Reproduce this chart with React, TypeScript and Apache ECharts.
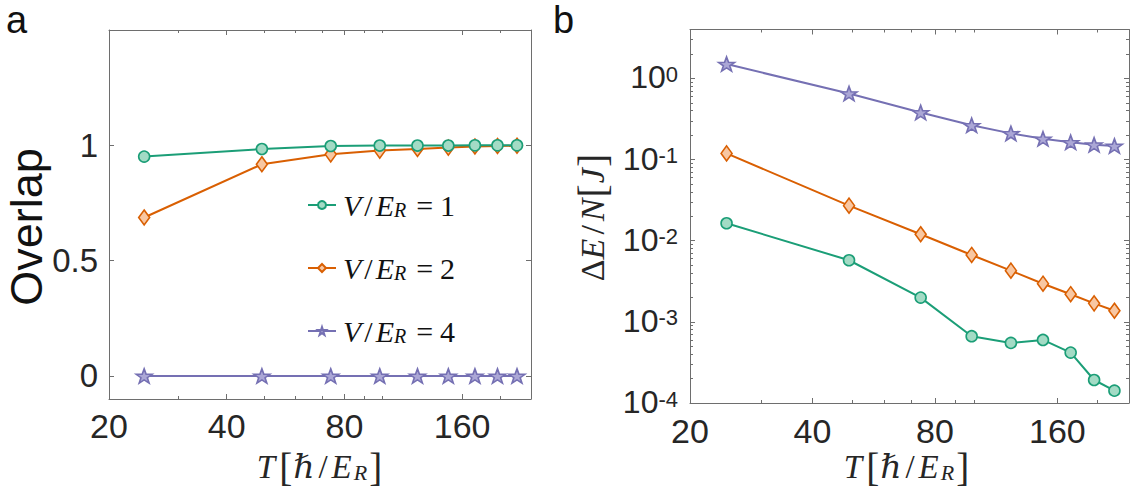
import React, { useEffect, useRef } from "react";
import * as echarts from "echarts";

// ---------- data ----------
const T = [24.6, 49.2, 73.8, 98.5, 123, 147.5, 172.5, 197, 221];

const overlapV1 = [0.951, 0.984, 0.997, 0.999, 0.999, 0.999, 1.0, 1.0, 1.0];
const overlapV2 = [0.687, 0.918, 0.961, 0.977, 0.984, 0.99, 0.995, 0.997, 0.998];
const overlapV4 = [0, 0, 0, 0, 0, 0, 0, 0, 0];

const dEV1 = [0.0164, 0.00574, 0.00199, 0.000665, 0.00055, 0.000598, 0.000418, 0.000192, 0.000142];
const dEV2 = [0.119, 0.027, 0.012, 0.00667, 0.00427, 0.00295, 0.00219, 0.00169, 0.00137];
const dEV4 = [1.5, 0.65, 0.38, 0.264, 0.21, 0.18, 0.163, 0.152, 0.147];

const seriesNames = ["V1", "V2", "V4"];
const seriesValues = ["1", "2", "4"];

const xMajorTicks = [20, 40, 80, 160];
const xMinorTicks = [30, 50, 60, 70, 90, 100, 200];
const overlapTicks = [0, 0.5, 1];
const dEMajorTicks = [1e-4, 1e-3, 1e-2, 1e-1, 1];
const dEMinorTicks = [
  2e-4, 3e-4, 4e-4, 5e-4, 6e-4, 7e-4, 8e-4, 9e-4,
  2e-3, 3e-3, 4e-3, 5e-3, 6e-3, 7e-3, 8e-3, 9e-3,
  2e-2, 3e-2, 4e-2, 5e-2, 6e-2, 7e-2, 8e-2, 9e-2,
  0.2, 0.3, 0.4, 0.5, 0.6, 0.7, 0.8, 0.9,
  2, 3,
];

const X_MIN = 20;
const X_MAX = 240;
const OV_MIN = -0.1;
const OV_MAX = 1.5;
const DE_MIN = 1e-4;
const DE_MAX = 4;

// ---------- styles ----------
const SANS = '"Liberation Sans", Arial, Helvetica, sans-serif';
const SERIF = '"Liberation Serif", "Times New Roman", "DejaVu Serif", serif';
const AX = "#6e6e6e";
const TXT = "#262626";
const LINE = ["#1b9e77", "#d95f02", "#7570b3"];
const FILL = ["#a3dbc5", "#f8c7a2", "#aba7d6"];
const STAR =
  "path://M0,-10 L2.35,-3.24 L9.51,-3.09 L3.8,1.24 L5.88,8.09 L0,4 L-5.88,8.09 L-3.8,1.24 L-9.51,-3.09 L-2.35,-3.24 Z";
const SYMBOLS = ["circle", "diamond", STAR];
const SYMSIZE: any[] = [11, [11, 15], [16, 15]];

const lx = (v: number) => Math.log2(v / X_MIN);
const axLine = { show: true, onZero: false, lineStyle: { color: AX, width: 1 } };
const noLine = { show: false, onZero: false };

function xAxesFor(gridIndex: number, labelMargin: number) {
  const base = {
    gridIndex,
    type: "value",
    min: 0,
    max: lx(X_MAX),
    splitLine: { show: false },
  };
  const major = { show: true, inside: true, length: 5, customValues: xMajorTicks.map(lx), lineStyle: { color: AX } };
  const minor = { show: true, inside: true, length: 3, customValues: xMinorTicks.map(lx), lineStyle: { color: AX } };
  return [
    { gridIndex, type: "log", logBase: 2, min: X_MIN, max: X_MAX, show: false, axisLine: noLine },
    {
      ...base,
      position: "bottom",
      axisLine: axLine,
      axisTick: major,
      axisLabel: {
        show: true,
        customValues: xMajorTicks.map(lx),
        formatter: (v: number) => String(Math.round(X_MIN * Math.pow(2, v))),
        fontSize: 34,
        fontFamily: SANS,
        color: TXT,
        margin: labelMargin,
        lineHeight: 30,
      },
    },
    { ...base, position: "bottom", axisLine: noLine, axisTick: minor, axisLabel: { show: false } },
    { ...base, position: "top", axisLine: axLine, axisTick: major, axisLabel: { show: false } },
    { ...base, position: "top", axisLine: noLine, axisTick: minor, axisLabel: { show: false } },
  ];
}

function buildOption() {
  const lg = (v: number) => Math.log10(v);
  const deBase = { gridIndex: 1, type: "value", min: lg(DE_MIN), max: lg(DE_MAX), splitLine: { show: false } };
  const deMajor = { show: true, inside: true, length: 5, customValues: dEMajorTicks.map(lg), lineStyle: { color: AX } };
  const deMinor = { show: true, inside: true, length: 3, customValues: dEMinorTicks.map(lg), lineStyle: { color: AX } };
  const ovTick = { show: true, inside: true, length: 5, customValues: overlapTicks, lineStyle: { color: AX } };

  const overlapData = [overlapV1, overlapV2, overlapV4];
  const dEData = [dEV1, dEV2, dEV4];

  const mkSeries = (i: number, vals: number[], xi: number, yi: number) => ({
    type: "line",
    name: seriesNames[i],
    xAxisIndex: xi,
    yAxisIndex: yi,
    data: T.map((t, k) => [t, vals[k]]),
    symbol: SYMBOLS[i],
    symbolSize: SYMSIZE[i],
    symbolKeepAspect: true,
    showAllSymbol: true,
    lineStyle: { color: LINE[i], width: 2 },
    itemStyle: { color: FILL[i], borderColor: LINE[i], borderWidth: 1.6 },
    emphasis: { disabled: true },
    z: 3 - i,
  });

  const richMath = (fs: number) => ({
    it: { fontFamily: SERIF, fontStyle: "italic", fontSize: fs, color: TXT, lineHeight: fs },
    n: { fontFamily: SERIF, fontSize: fs, color: TXT, lineHeight: fs },
    tp: { fontFamily: SERIF, fontStyle: "italic", fontSize: fs, color: TXT, lineHeight: fs, padding: [0, 3, 0, 0] },
    sl: { fontFamily: SERIF, fontSize: fs, color: TXT, lineHeight: fs, padding: [0, 4, 0, 4] },
    br: { fontFamily: SERIF, fontSize: fs + 6, color: TXT, lineHeight: fs, padding: [0, 1, 0, 1] },
    sub: {
      fontFamily: SERIF,
      fontStyle: "italic",
      fontSize: Math.round(fs * 0.68),
      color: TXT,
      lineHeight: Math.round(fs * 0.6),
      verticalAlign: "bottom",
      padding: [0, 1, 0, 2],
    },
  });

  return {
    animation: false,
    backgroundColor: "#ffffff",
    grid: [
      { left: 109, top: 30, width: 422, height: 369, outerBoundsMode: "none", containLabel: false },
      { left: 690, top: 29.5, width: 439, height: 373.5, outerBoundsMode: "none", containLabel: false },
    ],
    xAxis: [...xAxesFor(0, 12), ...xAxesFor(1, 13)],
    yAxis: [
      {
        gridIndex: 0,
        type: "value",
        min: OV_MIN,
        max: OV_MAX,
        position: "left",
        splitLine: { show: false },
        axisLine: axLine,
        axisTick: ovTick,
        axisLabel: {
          customValues: overlapTicks,
          formatter: (v: number) => String(v),
          fontSize: 33,
          fontFamily: SANS,
          color: TXT,
          margin: 11,
        },
      },
      {
        gridIndex: 0,
        type: "value",
        min: OV_MIN,
        max: OV_MAX,
        position: "right",
        splitLine: { show: false },
        axisLine: axLine,
        axisTick: ovTick,
        axisLabel: { show: false },
      },
      { gridIndex: 1, type: "log", logBase: 10, min: DE_MIN, max: DE_MAX, show: false, axisLine: noLine },
      {
        ...deBase,
        position: "left",
        axisLine: axLine,
        axisTick: deMajor,
        axisLabel: {
          customValues: dEMajorTicks.map(lg),
          formatter: (v: number) => `{n|10}{s|${Math.round(v)}}`,
          margin: 12,
          rich: {
            n: { fontSize: 32, fontFamily: SANS, color: TXT, lineHeight: 30, verticalAlign: "bottom" },
            s: { fontSize: 22, fontFamily: SANS, color: TXT, lineHeight: 24, padding: [0, 0, 16, 0], verticalAlign: "top" },
          },
        },
      },
      { ...deBase, position: "left", axisLine: noLine, axisTick: deMinor, axisLabel: { show: false } },
      { ...deBase, position: "right", axisLine: axLine, axisTick: deMajor, axisLabel: { show: false } },
      { ...deBase, position: "right", axisLine: noLine, axisTick: deMinor, axisLabel: { show: false } },
    ],
    legend: {
      data: seriesNames,
      orient: "vertical",
      left: 307,
      top: 190,
      padding: 0,
      itemWidth: 28,
      itemHeight: 10,
      itemGap: 33,
      selectedMode: false,
      formatter: (name: string) => {
        const i = seriesNames.indexOf(name);
        return `{it|V}{sl|/}{it|E}{sub|R}{eq|=}{n|${seriesValues[i]}}`;
      },
      textStyle: {
        fontFamily: SERIF,
        fontSize: 30,
        color: "#111111",
        padding: [0, 0, 0, 2],
        rich: {
          it: { fontFamily: SERIF, fontStyle: "italic", fontSize: 30, color: "#111", lineHeight: 30 },
          n: { fontFamily: SERIF, fontSize: 30, color: "#111", lineHeight: 30 },
          sl: { fontFamily: SERIF, fontSize: 30, color: "#111", lineHeight: 30, padding: [0, 3, 0, 3] },
          eq: { fontFamily: SERIF, fontSize: 30, color: "#111", lineHeight: 30, padding: [0, 7, 0, 10] },
          sub: { fontFamily: SERIF, fontStyle: "italic", fontSize: 20, color: "#111", lineHeight: 18, verticalAlign: "bottom" },
        },
      },
    },
    graphic: [
      { type: "text", x: 6, y: 20, style: { text: "a", fontSize: 38, fontFamily: SANS, fill: "#111", align: "left", verticalAlign: "middle" } },
      { type: "text", x: 553, y: 20, style: { text: "b", fontSize: 38, fontFamily: SANS, fill: "#111", align: "left", verticalAlign: "middle" } },
      {
        type: "text",
        x: 26,
        y: 227,
        rotation: Math.PI / 2,
        style: { text: "Overlap", fontSize: 45, fontFamily: SANS, fill: "#111", align: "center", verticalAlign: "middle" },
      },
      {
        type: "text",
        x: 592,
        y: 217,
        rotation: Math.PI / 2,
        style: {
          text: "{n|Δ}{it|E}{sl|/}{it|N}{br|[}{it|J}{br|]}",
          fill: TXT,
          align: "center",
          verticalAlign: "middle",
          rich: richMath(34),
        },
      },
      {
        type: "text",
        x: 320,
        y: 467,
        style: {
          text: "{tp|T}{br|[}{it|ℏ}{sl|/}{it|E}{sub|R}{br|]}",
          fill: TXT,
          align: "center",
          verticalAlign: "middle",
          rich: richMath(33),
        },
      },
      {
        type: "text",
        x: 907,
        y: 467,
        style: {
          text: "{tp|T}{br|[}{it|ℏ}{sl|/}{it|E}{sub|R}{br|]}",
          fill: TXT,
          align: "center",
          verticalAlign: "middle",
          rich: richMath(33),
        },
      },
    ],
    series: [
      ...overlapData.map((vals, i) => mkSeries(i, vals, 0, 0)),
      ...dEData.map((vals, i) => mkSeries(i, vals, 5, 2)),
    ],
  };
}

export default function App() {
  const ref = useRef<HTMLDivElement>(null);
  useEffect(() => {
    if (!ref.current) return;
    const chart = echarts.init(ref.current, null, { renderer: "svg" });
    chart.setOption(buildOption() as any);
    return () => chart.dispose();
  }, []);
  return (
    <div
      ref={ref}
      style={{ position: "fixed", left: 0, top: 0, width: 1141, height: 500, background: "#ffffff" }}
    />
  );
}
